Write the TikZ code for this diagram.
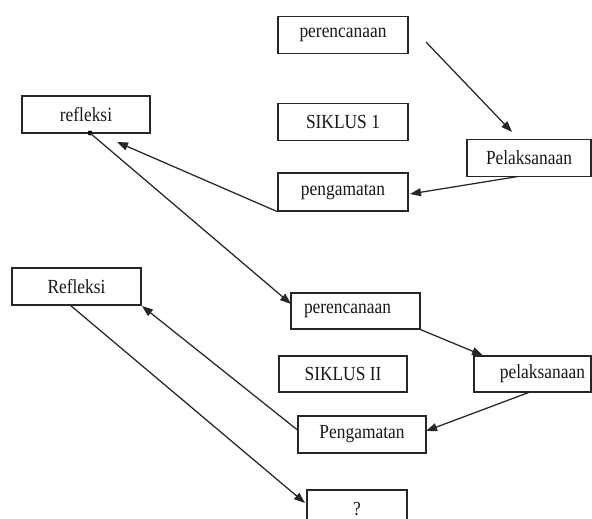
\documentclass[tikz,border=0pt]{standalone}
\usepackage{fontspec}
\setmainfont{Liberation Serif}[FakeStretch=0.87]
\usetikzlibrary{arrows.meta}
\begin{document}
\begin{tikzpicture}[x=1pt,y=-1pt,
  box/.style={draw=black!85,line width=1.3pt,minimum width=#1,minimum height=37pt,inner sep=0pt,
    font=\fontsize{20pt}{22pt}\selectfont,text=black!90},
  box/.default=129pt,
  conn/.style={draw=black!85,line width=1.25pt,-{Triangle[length=11pt,width=8pt]}},
  plain/.style={draw=black!85,line width=1.25pt}]
\clip (0,0) rectangle (592,519);
\fill[white] (0,0) rectangle (592,519);
% cycle 1
\node[box=130pt] (p1) at (343,35) {perencanaan};
\node[box=130pt] (s1) at (343,122) {SIKLUS 1};
\node[box=124pt] (l1) at (529,158) {Pelaksanaan};
\node[box=130pt,minimum height=38pt] (g1) at (343,192) {pengamatan};
\node[box=128pt] (r1) at (86,114.5) {refleksi};
% cycle 2
\node[box=129pt] (r2) at (76.5,286.5) {Refleksi};
\node[box=129pt,minimum height=36pt,text width=103pt,align=left,inner xsep=13pt] (p2) at (355.5,311) {perencanaan};
\node[box=128pt,minimum height=36pt] (s2) at (343,374) {SIKLUS II};
\node[box=117pt,minimum height=36pt,text width=105pt,align=right,inner xsep=6pt] (l2) at (532.5,374) {pelaksanaan};
\node[box=128pt] (g2) at (362,434.5) {Pengamatan};
\node[box=100pt,minimum height=38pt] (q) at (357,509) {?};
% free connector ends
\coordinate (a1s) at (426,42);
\coordinate (a1e) at (512,132);
\coordinate (a2s) at (518,176.5);
\coordinate (a2e) at (410,194);
\coordinate (a3e) at (117,142);
\coordinate (a4s) at (90,133);
\coordinate (a4e) at (291,304);
\coordinate (a5e) at (483,355.5);
\coordinate (a6s) at (530,392);
\coordinate (a6e) at (426,431);
\coordinate (a7s) at (297.5,430);
\coordinate (a7e) at (142,306);
\coordinate (a8s) at (70,305);
\coordinate (a8e) at (305,503);
% connectors
\draw[conn] (a1s) -- (a1e);
\draw[conn] (a2s) -- (a2e);
\draw[conn] (g1.south west) -- (a3e);
\fill[black] (a4s) circle (2.5pt);
\draw[conn] (a4s) -- (a4e);
\draw[conn] (p2.south east) -- (a5e);
\draw[conn] (a6s) -- (a6e);
\draw[conn] (a7s) -- (a7e);
\draw[conn] (a8s) -- (a8e);
\end{tikzpicture}
\end{document}
